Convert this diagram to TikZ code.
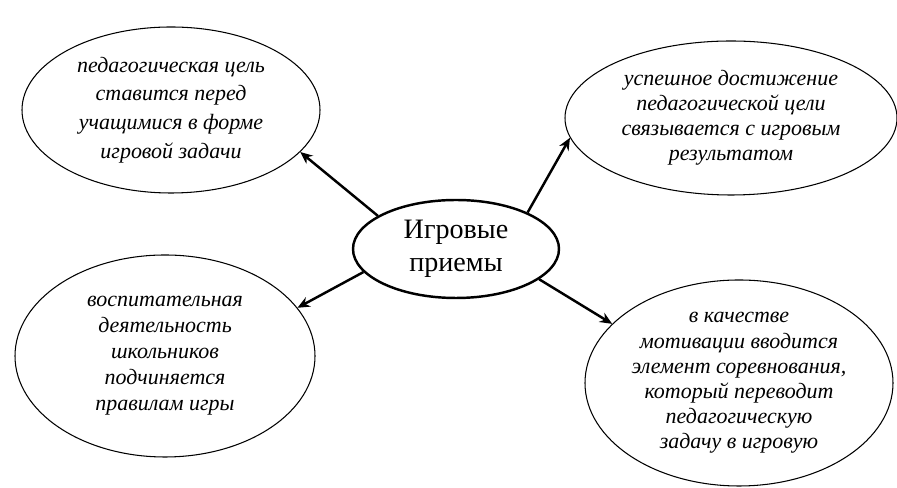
\documentclass[tikz,border=0pt]{standalone}
\usepackage{fontspec}
\setmainfont{Liberation Serif}
\usetikzlibrary{shapes.geometric,arrows.meta}

\tikzset{every picture/.style={line width=0.75pt}}
\tikzset{
	oval/.style={draw,ellipse,inner sep=0pt,align=center,line width=0.6pt,
		font=\fontsize{12.5}{14.3}\selectfont\itshape},
	hub/.style={draw,ellipse,inner sep=0pt,align=center,line width=1.4pt,
		font=\fontsize{16}{18.5}\selectfont},
	link/.style={-{Stealth[length=7pt,width=6pt]},line width=1.4pt}
}

\begin{document}
\begin{tikzpicture}
	\useasboundingbox (0,0) rectangle (17.94,9.76);
	%Tam
	\node[hub,minimum width=4.12cm,minimum height=1.96cm] (hub) at (9.12,4.78) {Игровые\\приемы};
	%Oval 1
	\node[oval,font=\fontsize{12.5}{16.4}\selectfont\itshape,minimum width=5.96cm,minimum height=3.32cm] (goal) at (3.42,7.56)
		{педагогическая цель\\ставится перед\\учащимися в форме\\игровой задачи};
	%Oval 2
	\node[oval,minimum width=6.64cm,minimum height=3.08cm] (result) at (14.62,7.40)
		{успешное достижение\\педагогической цели\\связывается с игровым\\результатом};
	%Oval 3
	\node[oval,font=\fontsize{12.5}{14.8}\selectfont\itshape,minimum width=6.0cm,minimum height=4.04cm] (rules) at (3.30,2.64)
		{воспитательная\\деятельность\\школьников\\подчиняется\\правилам игры};
	%Oval 4
	\node[oval,minimum width=6.16cm,minimum height=4.12cm] (contest) at (14.78,2.10)
		{в качестве\\мотивации вводится\\элемент соревнования,\\который переводит\\педагогическую\\задачу в игровую};
	%Mui ten
	\draw[link] (hub.157) -- (goal.-18);
	\draw[link] (hub.27) -- (result.187);
	\draw[link] (hub.194) -- (rules.20);
	\draw[link] (hub.-20) -- (contest.155);
\end{tikzpicture}
\end{document}
